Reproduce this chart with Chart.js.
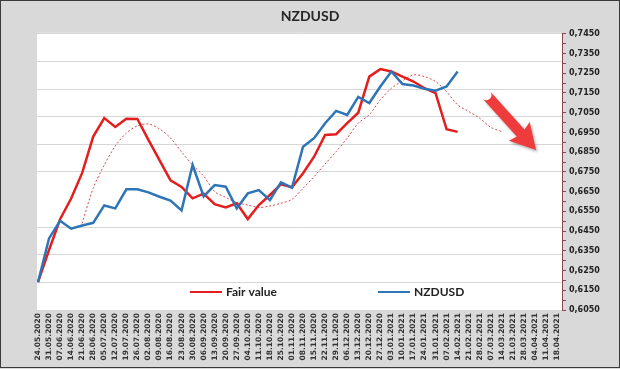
<!DOCTYPE html>
<html><head><meta charset="utf-8">
<script src="https://cdn.jsdelivr.net/npm/chart.js@4/dist/chart.umd.min.js"></script>
<style>html,body{margin:0;padding:0;background:#d9d9d9;}#wrap{width:620px;height:369px;position:relative;}</style>
</head><body><div id="wrap"><canvas id="c" width="620" height="369"></canvas></div>
<script>
const categories = ["24.05.2020","31.05.2020","07.06.2020","14.06.2020","21.06.2020","28.06.2020","05.07.2020","12.07.2020","19.07.2020","26.07.2020","02.08.2020","09.08.2020","16.08.2020","23.08.2020","30.08.2020","06.09.2020","13.09.2020","20.09.2020","27.09.2020","04.10.2020","11.10.2020","18.10.2020","25.10.2020","01.11.2020","08.11.2020","15.11.2020","22.11.2020","29.11.2020","06.12.2020","13.12.2020","20.12.2020","27.12.2020","03.01.2021","10.01.2021","17.01.2021","24.01.2021","31.01.2021","07.02.2021","14.02.2021","21.02.2021","28.02.2021","07.03.2021","14.03.2021","21.03.2021","28.03.2021","04.04.2021","11.04.2021","18.04.2021"];

const fairValue = [0.6191,0.6354,0.6510,0.6615,0.6745,0.6929,0.7023,0.6978,0.7019,0.7018,0.6912,0.6810,0.6707,0.6674,0.6616,0.6640,0.6586,0.6570,0.6591,0.6511,0.6582,0.6633,0.6687,0.6672,0.6743,0.6827,0.6937,0.6941,0.6997,0.7050,0.7233,0.7271,0.7259,0.7233,0.7208,0.7174,0.7149,0.6966,0.6953];

const nzdusd = [0.6191,0.6413,0.6502,0.6462,0.6478,0.6492,0.6580,0.6565,0.6662,0.6662,0.6646,0.6624,0.6605,0.6555,0.6785,0.6626,0.6683,0.6675,0.6565,0.6641,0.6658,0.6607,0.6697,0.6670,0.6878,0.6921,0.6997,0.7059,0.7039,0.7130,0.7099,0.7183,0.7259,0.7195,0.7188,0.7171,0.7162,0.7183,0.7259];

const fairValueTrend = [null,null,null,null,0.6489,0.6668,0.6785,0.6881,0.6947,0.6983,0.6993,0.6968,0.6922,0.6851,0.6785,0.6729,0.6650,0.6621,0.6594,0.6582,0.6570,0.6577,0.6591,0.6611,0.6667,0.6726,0.6790,0.6853,0.6921,0.6997,0.7040,0.7115,0.7174,0.7211,0.7242,0.7233,0.7208,0.7157,0.7090,0.7056,0.7022,0.6976,0.6954];

const yMin = 0.605, yMax = 0.745, yLabelStep = 0.01, yMinorStep = 0.005;
const gridStep = 0.014;
const arrowFrom = {x: 40.6, y: 0.7140};
const arrowTo = {x: 45.1, y: 0.6861};

const yTickValues = [];
for (let k = 0; yMin + k*yMinorStep <= yMax + 1e-9; k++) yTickValues.push(+(yMin + k*yMinorStep).toFixed(4));
const gridValues = [];
for (let k = 0; yMin + k*gridStep <= yMax + 1e-9; k++) gridValues.push(+(yMin + k*gridStep).toFixed(4));
const hiddenGrid = [0.661];

const toPts = arr => arr.map((v,i) => ({x:i, y:v}));

const bgPlugin = {
  id: 'bg',
  beforeDraw(chart) {
    const {ctx, chartArea: a, width, height} = chart;
    ctx.save();
    ctx.fillStyle = '#d9d9d9';
    ctx.fillRect(0,0,width,height);
    ctx.fillStyle = '#ffffff';
    ctx.fillRect(a.left, a.top - 1, a.right - a.left, a.bottom - a.top + 1);
    ctx.restore();
  },
  afterDraw(chart) {
    const {ctx, width, height} = chart;
    ctx.save();
    ctx.strokeStyle = '#3a3a3a';
    ctx.lineWidth = 1;
    ctx.strokeRect(0.5, 0.5, width - 1, height - 2);
    ctx.restore();
  }
};

const arrowPlugin = {
  id: 'arrow',
  afterDatasetsDraw(chart) {
    const {ctx, scales} = chart;
    const x0 = scales.x.getPixelForValue(arrowFrom.x), y0 = scales.y.getPixelForValue(arrowFrom.y);
    const x1 = scales.x.getPixelForValue(arrowTo.x), y1 = scales.y.getPixelForValue(arrowTo.y);
    const dx = x1 - x0, dy = y1 - y0, L = Math.hypot(dx, dy);
    const ux = dx / L, uy = dy / L, nx = -uy, ny = ux;
    const headLen = 25, headHalf = 14;
    const bx = x1 - ux*headLen, by = y1 - uy*headLen;
    ctx.save();
    ctx.shadowColor = 'rgba(0,0,0,0.3)';
    ctx.shadowBlur = 3; ctx.shadowOffsetX = 1.5; ctx.shadowOffsetY = 2;
    ctx.fillStyle = '#ee3b3b';
    ctx.beginPath();
    const sw = 5.2;
    ctx.moveTo(x0 + nx*sw, y0 + ny*sw);
    ctx.lineTo(bx + nx*sw + ux*2, by + ny*sw + uy*2);
    ctx.lineTo(bx + nx*headHalf, by + ny*headHalf);
    ctx.lineTo(x1, y1);
    ctx.lineTo(bx - nx*headHalf, by - ny*headHalf);
    ctx.lineTo(bx - nx*sw + ux*2, by - ny*sw + uy*2);
    ctx.lineTo(x0 - nx*sw, y0 - ny*sw);
    ctx.arc(x0, y0, sw, Math.atan2(-ny, -nx), Math.atan2(ny, nx), false);
    ctx.closePath();
    ctx.fill();
    ctx.restore();
  }
};

const legendPlugin = {
  id: 'customLegend',
  afterDraw(chart) {
    const {ctx, chartArea: a} = chart;
    const items = [
      {ds: chart.data.datasets[1], x: 190},
      {ds: chart.data.datasets[0], x: 378}
    ];
    const y = a.bottom - 18;
    ctx.save();
    ctx.font = 'bold 12px Lato, "Liberation Sans", sans-serif';
    ctx.textBaseline = 'middle';
    ctx.textAlign = 'left';
    items.forEach(it => {
      ctx.strokeStyle = it.ds.borderColor;
      ctx.lineWidth = 2;
      ctx.beginPath();
      ctx.moveTo(it.x, y); ctx.lineTo(it.x + 32, y);
      ctx.stroke();
      ctx.fillStyle = '#222';
      ctx.fillText(it.ds.label, it.x + 36, y + 0.5);
    });
    ctx.restore();
  }
};

new Chart(document.getElementById('c'), {
  type: 'line',
  data: {
    datasets: [
      {label: 'NZDUSD', data: toPts(nzdusd), borderColor: '#2e75b6', borderWidth: 2.5, pointRadius: 0, tension: 0, fill: false, yAxisID: 'y', xAxisID: 'x'},
      {label: 'Fair value', data: toPts(fairValue), borderColor: '#e31e1e', borderWidth: 2.5, pointRadius: 0, tension: 0, fill: false, yAxisID: 'y', xAxisID: 'x'},
      {label: 'Fair value trend', data: toPts(fairValueTrend), borderColor: '#d94a4a', borderWidth: 1, borderDash: [2,2], pointRadius: 0, tension: 0.3, fill: false, yAxisID: 'y', xAxisID: 'x'}
    ]
  },
  options: {
    responsive: false,
    animation: false,
    events: [],
    layout: {padding: 0},
    plugins: {
      legend: {display: false},
      tooltip: {enabled: false},
      title: {display: true, text: 'NZDUSD', color: '#262626', font: {family: 'Lato, "Liberation Sans", sans-serif', size: 14, weight: 'bold'}, padding: {top: 8, bottom: 9}}
    },
    scales: {
      x: {
        type: 'linear', min: -0.09, max: 47.45,
        afterBuildTicks: s => { s.ticks = categories.map((_, i) => ({value: i})); },
        afterFit: s => { s.height = 59; },
        grid: {display: false, drawTicks: false},
        border: {display: false},
        ticks: {autoSkip: false, minRotation: 90, maxRotation: 90, padding: 3, color: '#333',
          font: {family: '"DejaVu Sans", sans-serif', size: 7.5, weight: 'bold'},
          callback: v => categories[Math.round(v)]}
      },
      y: {
        type: 'linear', position: 'right', min: yMin, max: yMax,
        afterBuildTicks: s => { s.ticks = yTickValues.map(v => ({value: v})); },
        afterFit: s => { s.width = 58; },
        grid: {drawOnChartArea: false, drawTicks: true, tickLength: 4, color: '#8a4848'},
        border: {display: true, color: '#8a4848', width: 1},
        ticks: {padding: 3, color: '#222', autoSkip: false,
          font: {family: '"DejaVu Sans", sans-serif', size: 8, weight: 'bold'},
          callback: v => (Math.round(v*1000) % 10 === 5) ? v.toFixed(4).replace('.', ',') : ''}
      },
      yg: {
        type: 'linear', position: 'left', min: yMin, max: yMax,
        afterBuildTicks: s => { s.ticks = gridValues.map(v => ({value: v})); },
        afterFit: s => { s.width = 37; },
        grid: {drawTicks: false, lineWidth: 1,
          color: c => hiddenGrid.some(h => Math.abs(h - c.tick.value) < 1e-6) ? 'rgba(0,0,0,0)' : '#d6d6d6'},
        border: {display: false},
        ticks: {display: false}
      }
    }
  },
  plugins: [bgPlugin, arrowPlugin, legendPlugin]
});
</script></body></html>
